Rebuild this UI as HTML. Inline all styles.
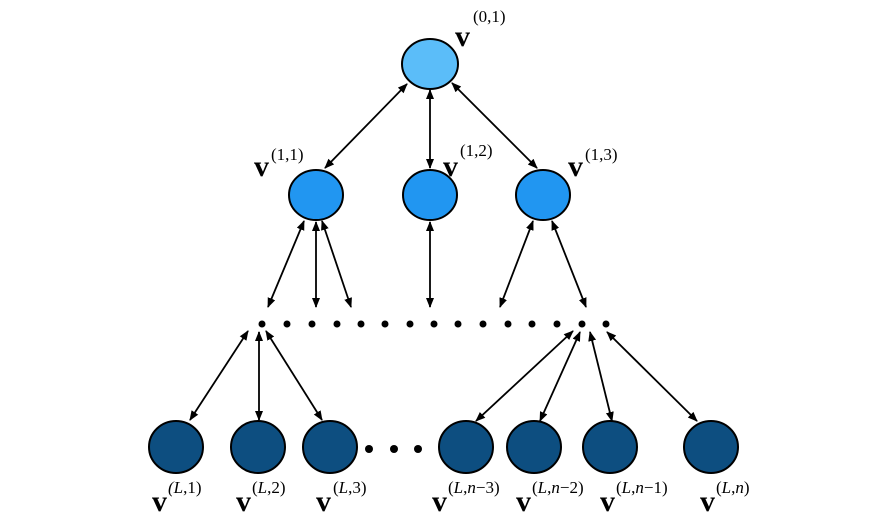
<!DOCTYPE html>
<html><head><style>
html,body{margin:0;padding:0;background:#fff;}
svg{display:block;}
text{font-family:"Liberation Serif",serif;fill:#000;}
.v{font-weight:bold;font-size:30px;}
.s{font-size:17px;}
</style></head><body>
<svg width="877" height="529" viewBox="0 0 877 529" xmlns="http://www.w3.org/2000/svg">
<defs>
<marker id="a" viewBox="0 0 10 10" refX="9" refY="5" markerWidth="10" markerHeight="10" markerUnits="userSpaceOnUse" orient="auto-start-reverse">
<path d="M0,1 L10,5 L0,9 z" fill="#000"/>
</marker>
</defs>
<g stroke="#000" stroke-width="1.8" marker-start="url(#a)" marker-end="url(#a)">
<line x1="407" y1="84" x2="325" y2="168"/>
<line x1="430" y1="90" x2="430" y2="168"/>
<line x1="452" y1="83" x2="537" y2="168"/>
<line x1="304" y1="221" x2="268" y2="307"/>
<line x1="316" y1="222" x2="316" y2="307"/>
<line x1="322" y1="221" x2="351" y2="307"/>
<line x1="430" y1="222" x2="430" y2="307"/>
<line x1="533" y1="221" x2="500" y2="307"/>
<line x1="552" y1="221" x2="586" y2="307"/>
<line x1="248" y1="331" x2="190" y2="420"/>
<line x1="259" y1="332" x2="259" y2="420"/>
<line x1="266" y1="331" x2="322" y2="420"/>
<line x1="573" y1="331" x2="476" y2="421"/>
<line x1="580" y1="332" x2="540" y2="421"/>
<line x1="590" y1="332" x2="612" y2="421"/>
<line x1="607" y1="332" x2="697" y2="421"/>
</g>
<g fill="#000">
<circle cx="262" cy="324" r="3.5"/><circle cx="287" cy="324" r="3.5"/><circle cx="312" cy="324" r="3.5"/>
<circle cx="337" cy="324" r="3.5"/><circle cx="361" cy="324" r="3.5"/><circle cx="385" cy="324" r="3.5"/>
<circle cx="410" cy="324" r="3.5"/><circle cx="434" cy="324" r="3.5"/><circle cx="458" cy="324" r="3.5"/>
<circle cx="483" cy="324" r="3.5"/><circle cx="508" cy="324" r="3.5"/><circle cx="532" cy="324" r="3.5"/>
<circle cx="557" cy="324" r="3.5"/><circle cx="582" cy="324" r="3.5"/><circle cx="606" cy="324" r="3.5"/>
<circle cx="369" cy="449" r="4"/><circle cx="394" cy="449" r="4"/><circle cx="418" cy="449" r="4"/>
</g>
<g stroke="#000" stroke-width="2">
<ellipse cx="430" cy="64" rx="28" ry="25" fill="#5bbdf9"/>
<ellipse cx="316" cy="195" rx="27" ry="25" fill="#2196f1"/>
<ellipse cx="430" cy="195" rx="27" ry="25" fill="#2196f1"/>
<ellipse cx="543" cy="195" rx="27" ry="25" fill="#2196f1"/>
<g fill="#0d4e80">
<ellipse cx="176" cy="447" rx="27" ry="26"/>
<ellipse cx="258" cy="447" rx="27" ry="26"/>
<ellipse cx="330" cy="447" rx="27" ry="26"/>
<ellipse cx="466" cy="447" rx="27" ry="26"/>
<ellipse cx="534" cy="447" rx="27" ry="26"/>
<ellipse cx="610" cy="447" rx="27" ry="26"/>
<ellipse cx="711" cy="447" rx="27" ry="26"/>
</g>
</g>
<text class="v" x="455" y="46">v</text><text class="s" x="473" y="22">(0,1)</text>
<text class="v" x="254" y="176">v</text><text class="s" x="271" y="160">(1,1)</text>
<text class="v" x="443" y="176">v</text><text class="s" x="460" y="156">(1,2)</text>
<text class="v" x="568" y="176">v</text><text class="s" x="585" y="160">(1,3)</text>
<text class="v" x="152" y="511">v</text><text class="s" x="168" y="493"><tspan font-style="italic">(L</tspan>,1)</text>
<text class="v" x="236" y="511">v</text><text class="s" x="252" y="493">(<tspan font-style="italic">L</tspan>,2)</text>
<text class="v" x="316" y="511">v</text><text class="s" x="333" y="493">(<tspan font-style="italic">L</tspan>,3)</text>
<text class="v" x="432" y="511">v</text><text class="s" x="448" y="493">(<tspan font-style="italic">L</tspan>,<tspan font-style="italic">n</tspan>−3)</text>
<text class="v" x="516" y="511">v</text><text class="s" x="532" y="493">(<tspan font-style="italic">L</tspan>,<tspan font-style="italic">n</tspan>−2)</text>
<text class="v" x="600" y="511">v</text><text class="s" x="616" y="493">(<tspan font-style="italic">L</tspan>,<tspan font-style="italic">n</tspan>−1)</text>
<text class="v" x="700" y="511">v</text><text class="s" x="716" y="493">(<tspan font-style="italic">L</tspan>,<tspan font-style="italic">n</tspan>)</text>
</svg>
</body></html>
